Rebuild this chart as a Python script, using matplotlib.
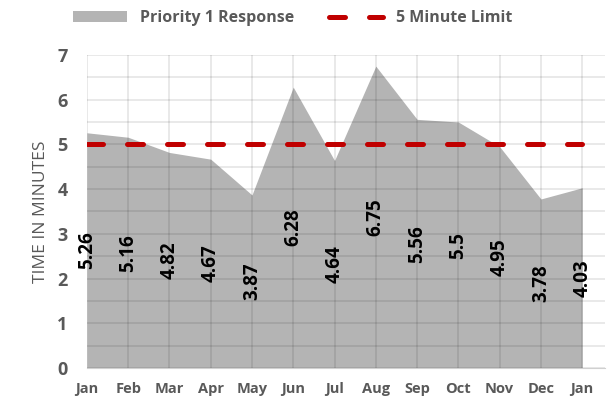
import matplotlib.pyplot as plt
from matplotlib.ticker import MultipleLocator
from matplotlib.patches import Patch
from matplotlib.lines import Line2D

months = ["Jan", "Feb", "Mar", "Apr", "May", "Jun", "Jul", "Aug", "Sep", "Oct", "Nov", "Dec", "Jan"]
response = [5.26, 5.16, 4.82, 4.67, 3.87, 6.28, 4.64, 6.75, 5.56, 5.5, 4.95, 3.78, 4.03]
limit = [5] * len(months)

plt.rcParams['font.family'] = ['Open Sans', 'DejaVu Sans']

fig = plt.figure(figsize=(6.16, 4.04), dpi=100)
ax = fig.add_axes([0.141, 0.089, 0.841, 0.775])
ax.set_axisbelow(False)

x = list(range(len(months)))
ax.fill_between(x, response, 0, color='#b4b4b4', lw=0, zorder=2)
ax.plot(x, limit, color='#c00000', lw=3.6, dashes=(3.2, 4.8),
        dash_capstyle='round', zorder=3)

for xi, v in zip(x, response):
    ax.text(xi, v / 2, f"{v:g}", rotation=90, ha='center', va='center',
            fontsize=13.5, fontweight='bold', color='black', zorder=4)

ax.set_xlim(0, 12.55)
ax.set_ylim(0, 7)
ax.yaxis.set_major_locator(MultipleLocator(1))
ax.yaxis.set_minor_locator(MultipleLocator(0.5))
ax.set_xticks(x)
ax.set_xticklabels(months)
ax.grid(True, which='both', axis='y', color='black', alpha=0.1, lw=1.2)
ax.grid(True, which='major', axis='x', color='black', alpha=0.1, lw=1.2)
ax.tick_params(which='both', length=0)
ax.tick_params(axis='x', pad=10, labelsize=10.5, labelcolor='#595959')
ax.tick_params(axis='y', pad=14, labelsize=13, labelcolor='#595959')
for lab in ax.get_xticklabels() + ax.get_yticklabels():
    lab.set_fontweight('bold')
for s in ['top', 'right', 'left']:
    ax.spines[s].set_visible(False)
ax.spines['bottom'].set_color('#d0d0d0')

ax.set_ylabel("TIME IN MINUTES", fontsize=12.5, color='#595959', labelpad=6)

handles = [Patch(facecolor='#b4b4b4', edgecolor='none'),
           Line2D([0], [0], color='#c00000', lw=3.6, dashes=(3.2, 4.8), dash_capstyle='round')]
fig.legend(handles, ["Priority 1 Response", "5 Minute Limit"], loc='upper center',
           bbox_to_anchor=(0.475, 1.01), ncol=2, frameon=False, handlelength=3.4,
           columnspacing=2.2, prop={'weight': 'bold', 'size': 11.5}, labelcolor='#595959')

fig.savefig("out.png", dpi=100)
